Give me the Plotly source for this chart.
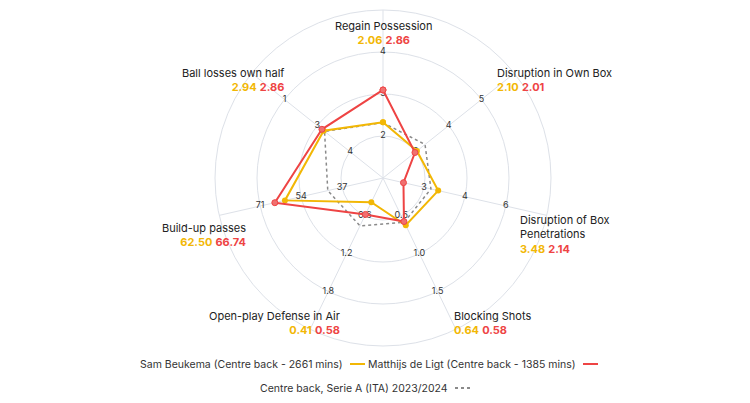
import plotly.graph_objects as go

categories = ["Regain Possession", "Disruption in Own Box", "Disruption of Box<br>Penetrations",
              "Blocking Shots", "Open-play Defense in Air", "Build-up passes", "Ball losses own half"]
beukema = [2.06, 2.10, 3.48, 0.64, 0.41, 62.50, 2.94]
deligt = [2.86, 2.01, 2.14, 0.58, 0.58, 66.74, 2.86]
average = [2.05, 2.47, 3.20, 0.59, 0.74, 44.5, 2.98]
# per-axis scale: value at first ring, value step per ring
ring1_value = [1.72, 2.05, 2.93, 0.49, 0.60, 38.5, 4.15]
ring_step = [1.04, 1.5, 1.58, 0.60, 0.53, 17.2, -1.5]
tick_labels = [["2", "3", "4"], ["2", "4", "5"], ["3", "4", "6"], ["0.5", "1.0", "1.5"],
               ["0.6", "1.2", "1.8"], ["37", "54", "71"], ["4", "3", "1"]]

YEL = "#f2b705"
RED = "#ee4444"
n = len(categories)
angles = [i * 360 / n for i in range(n)]

def to_r(vals):
    return [1 + (v - a) / s for v, a, s in zip(vals, ring1_value, ring_step)]

fig = go.Figure()
# tick labels
tr, tt, txt = [], [], []
for i in range(n):
    for k in range(3):
        tr.append(k + 1); tt.append(angles[i]); txt.append(tick_labels[i][k])
fig.add_trace(go.Scatterpolar(r=tr, theta=tt, text=txt, mode="text",
                              textfont=dict(size=9, color="#333"), showlegend=False, hoverinfo="skip"))

def closed(l):
    return l + l[:1]

fig.add_trace(go.Scatterpolar(r=closed(to_r(average)), theta=closed(angles), mode="lines",
                              line=dict(color="#8a8a8a", dash="dot", width=1.5), showlegend=False))
fig.add_trace(go.Scatterpolar(r=closed(to_r(beukema)), theta=closed(angles), mode="lines+markers",
                              line=dict(color=YEL, width=2), marker=dict(size=6, color=YEL),
                              showlegend=False))
fig.add_trace(go.Scatterpolar(r=closed(to_r(deligt)), theta=closed(angles), mode="lines+markers",
                              line=dict(color=RED, width=2),
                              marker=dict(size=6, color="#f07070", line=dict(color=RED, width=1)),
                              showlegend=False))

W, H = 750, 403
cx, cy, R = 375, 170, 168
fig.update_layout(
    width=W, height=H, margin=dict(l=0, r=0, t=0, b=0),
    paper_bgcolor="white", plot_bgcolor="white",
    font=dict(family="Inter, Noto Sans, sans-serif", size=11, color="#222"),
    polar=dict(
        domain=dict(x=[(cx - R) / W, (cx + R) / W], y=[1 - (cy + R) / H, 1 - (cy - R) / H]),
        bgcolor="white",
        radialaxis=dict(range=[0, 4], tickvals=[1, 2, 3, 4], showticklabels=False, ticks="",
                        gridcolor="#dde1e8", showline=False, gridwidth=1),
        angularaxis=dict(rotation=90, direction="clockwise", tickvals=angles, showticklabels=False,
                         ticks="", gridcolor="#dde1e8", linecolor="#dde1e8"),
    ),
)

def vals_html(i):
    return (f"<span style='color:{YEL}'><b>{beukema[i]:.2f}</b></span> "
            f"<span style='color:{RED}'><b>{deligt[i]:.2f}</b></span>")

# label positions (pixels): x, y_top, anchor
label_pos = [(375, 9, "center"), (487, 56, "left"), (510, 203, "left"), (444, 299, "left"),
             (334, 299, "right"), (240, 211, "right"), (278, 56, "right")]
for i, (x, y, anc) in enumerate(label_pos):
    fig.add_annotation(x=x / W, y=1 - y / H, xref="paper", yref="paper", xanchor=anc, yanchor="top",
                       align=anc, text=categories[i] + "<br>" + vals_html(i), showarrow=False,
                       font=dict(size=11))

# legend
legend_items = [("Sam Beukema (Centre back - 2661 mins)", 337, 356, YEL, "solid"),
                ("Matthijs de Ligt (Centre back - 1385 mins)", 570, 356, RED, "solid"),
                ("Centre back, Serie A (ITA) 2023/2024", 442, 380, "#8a8a8a", "dot")]
for text, xr, y, col, dash in legend_items:
    fig.add_annotation(x=xr / W, y=1 - y / H, xref="paper", yref="paper", xanchor="right",
                       yanchor="middle", text=text, showarrow=False, font=dict(size=10.5, color="#333"))
    fig.add_shape(type="line", xref="paper", yref="paper", x0=(xr + 5) / W, x1=(xr + 20) / W,
                  y0=1 - y / H, y1=1 - y / H, line=dict(color=col, width=2, dash=dash))

fig.write_html("out.html")
